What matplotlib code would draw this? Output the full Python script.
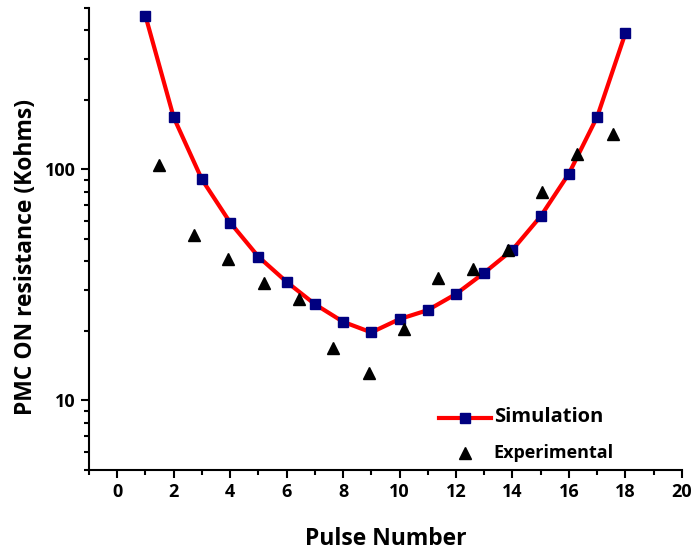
import matplotlib.pyplot as plt
from matplotlib.ticker import LogLocator, NullFormatter, MultipleLocator, FixedLocator

plt.rcParams['font.family'] = ['Open Sans', 'DejaVu Sans']

# simulacion (cuadros) y experimental (triangulos)
sim_x = [1, 2, 3, 4, 5, 6, 7, 8, 9, 10, 11, 12, 13, 14, 15, 16, 17, 18]
sim_y = [462, 168, 90.5, 58.9, 41.9, 32.6, 26.1, 21.9, 19.7, 22.5, 24.6, 28.9,
         35.7, 44.9, 62.7, 96, 169, 389]

exp_x = [1.49, 2.73, 3.93, 5.2, 6.44, 7.66, 8.9, 10.14, 11.35, 12.6, 13.85,
         15.05, 16.3, 17.55]
exp_y = [105, 52, 41, 32.1, 27.4, 16.9, 13.2, 20.4, 33.8, 37, 44.6, 79.6, 117, 143]

fig = plt.figure(figsize=(6.91, 5.5), dpi=100)
ax = fig.add_axes([0.1288, 0.1455, 0.858, 0.84])

ax.plot(sim_x, sim_y, color='#ff0000', lw=3, marker='s', ms=6.5,
        mfc='#000080', mec='#000080', label='Simulation')
ax.plot(exp_x, exp_y, ls='none', marker='^', ms=9, color='black',
        label='Experimental')

ax.set_yscale('log')
ax.set_xlim(-1, 20)
ax.set_ylim(5, 500)

ax.xaxis.set_major_locator(MultipleLocator(2))
ax.xaxis.set_minor_locator(MultipleLocator(1))
ax.yaxis.set_major_locator(FixedLocator([10, 100]))
ax.yaxis.set_major_formatter(plt.FuncFormatter(lambda v, p: '%d' % v))
ax.yaxis.set_minor_locator(LogLocator(base=10, subs=range(2, 10)))
ax.yaxis.set_minor_formatter(NullFormatter())

for s in ['top', 'right']:
    ax.spines[s].set_visible(False)
for s in ['left', 'bottom']:
    ax.spines[s].set_linewidth(1.5)

ax.tick_params(which='major', length=6, width=1.5, direction='out', labelsize=13)
ax.tick_params(which='minor', length=3.5, width=1.5, direction='out')
for lab in ax.get_xticklabels() + ax.get_yticklabels():
    lab.set_fontweight('bold')

ax.set_xlabel('Pulse Number', fontsize=16.5, fontweight='bold')
ax.set_ylabel('PMC ON resistance (Kohms)', fontsize=16.5, fontweight='bold')
ax.xaxis.set_label_coords(0.5, -0.123)
ax.yaxis.set_label_coords(-0.086, 0.46)

leg = ax.legend(loc='lower left', bbox_to_anchor=(0.57, -0.01), frameon=False,
                handlelength=3.7, handletextpad=0.2, labelspacing=1.2)
txts = leg.get_texts()
txts[0].set_fontsize(14.5)
txts[0].set_fontweight('bold')
txts[1].set_fontsize(13)
txts[1].set_fontweight('bold')

fig.savefig('out.png', dpi=100)
